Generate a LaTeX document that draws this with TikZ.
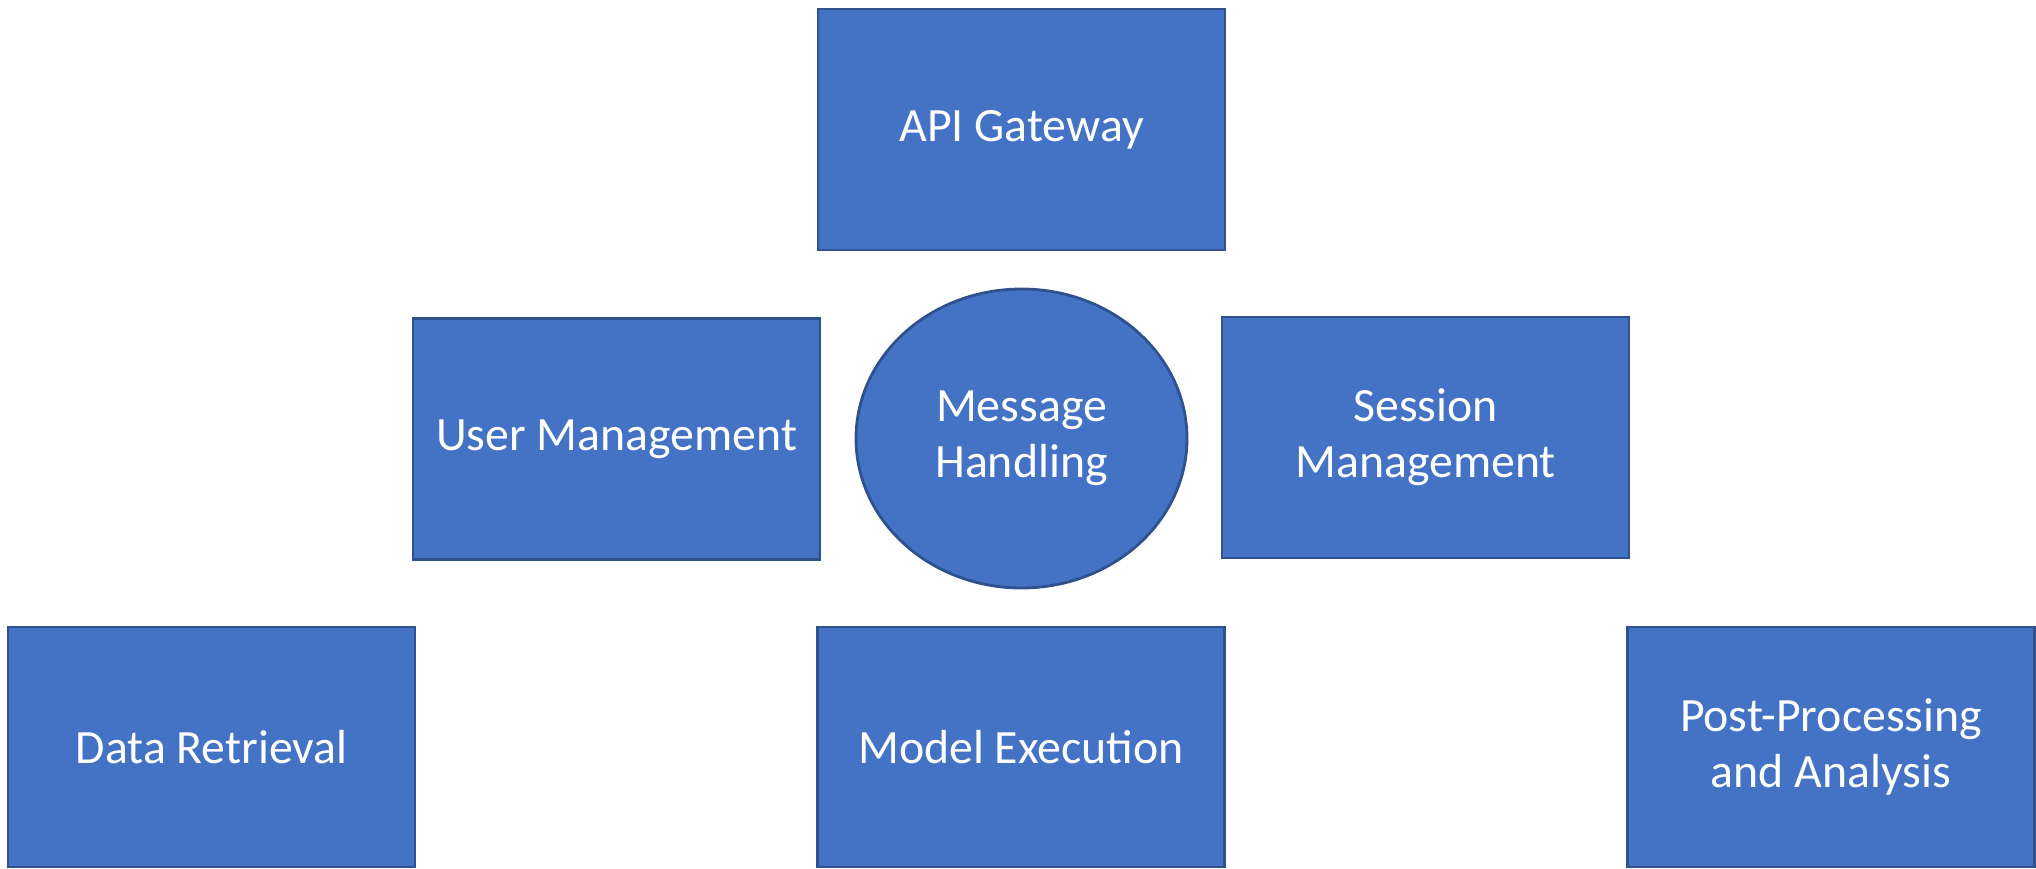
\documentclass[tikz,border=0pt]{standalone}
\usepackage{fontspec}
\setmainfont{Carlito}
\usetikzlibrary{shapes.geometric}
\definecolor{boxfill}{HTML}{4472C4}
\definecolor{boxline}{HTML}{2F528F}
\tikzset{
  module/.style={rectangle, draw=boxline, fill=boxfill, line width=0.8pt,
    minimum width=4.07cm, minimum height=2.41cm, text=white, align=center,
    font=\fontsize{13.6}{16}\selectfont},
  hub/.style={module, ellipse, minimum width=3.31cm, minimum height=2.99cm, inner sep=0pt}
}
\begin{document}
\begin{tikzpicture}
  \useasboundingbox (0,0) rectangle (20.36,8.68);
  % top row
  \node[module] (api) at (10.215,7.385) {API Gateway};
  % middle row
  \node[module] (user) at (6.165,4.29) {User Management};
  \node[hub] (msg) at (10.215,4.295) {Message\\Handling};
  \node[module] (session) at (14.255,4.305) {Session\\Management};
  % bottom row
  \node[module, minimum height=2.40cm] (data) at (2.115,1.21) {Data Retrieval};
  \node[module, minimum height=2.40cm] (model) at (10.21,1.21) {Model Execution};
  \node[module, minimum height=2.40cm] (post) at (18.31,1.21) {Post-Processing\\and Analysis};
\end{tikzpicture}
\end{document}
